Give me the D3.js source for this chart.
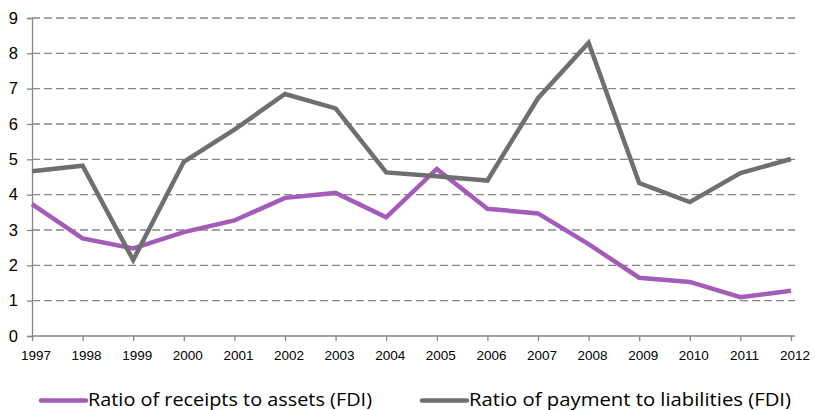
<!DOCTYPE html>
<html>
<head>
<meta charset="utf-8">
<script src="https://cdn.jsdelivr.net/npm/d3@7"></script>
<style>
  body { margin: 0; background: #fff; }
  svg { display: block; font-family: "Open Sans", "DejaVu Sans", sans-serif; }
</style>
</head>
<body>
<div id="chart"></div>
<script>
// years on the x axis
const years = ["1997","1998","1999","2000","2001","2002","2003","2004",
               "2005","2006","2007","2008","2009","2010","2011","2012"];

// series values
const receiptsToAssets = [3.73, 2.76, 2.48, 2.94, 3.27, 3.91, 4.05, 3.36,
                          4.73, 3.6, 3.47, 2.6, 1.65, 1.53, 1.1, 1.28];
const paymentToLiabilities = [4.66, 4.82, 2.15, 4.93, 5.84, 6.85, 6.44, 4.63,
                              4.52, 4.4, 6.73, 8.3, 4.33, 3.79, 4.61, 5.01];

const seriesNames = ["Ratio of receipts to assets (FDI)", "Ratio of payment to liabilities (FDI)"];
const yTicks = [0, 1, 2, 3, 4, 5, 6, 7, 8, 9];

const width = 815, height = 410;
const margin = { left: 32, right: 24, top: 18, bottom: 74 };

const svg = d3.select('#chart').append('svg')
    .attr('width', width)
    .attr('height', height);

const x = d3.scalePoint()
    .domain(years)
    .range([margin.left, 791]);

const y = d3.scaleLinear()
    .domain([0, 9])
    .range([336, margin.top]);

const axisColor = '#868686';

// dashed gridlines
svg.append('g')
  .selectAll('line')
  .data(yTicks.filter(d => d > 0))
  .join('line')
    .attr('x1', margin.left)
    .attr('x2', 795)
    .attr('y1', d => y(d))
    .attr('y2', d => y(d))
    .attr('stroke', axisColor)
    .attr('stroke-width', 1.3)
    .attr('stroke-dasharray', '8,4');

// y axis
const yAxis = svg.append('g')
    .attr('transform', `translate(${margin.left},0)`)
    .call(d3.axisLeft(y).tickValues(yTicks).tickSize(5).tickPadding(9));
yAxis.select('.domain').attr('stroke', axisColor).attr('stroke-width', 1.3);
yAxis.selectAll('.tick line').attr('stroke', axisColor).attr('stroke-width', 1.3);
yAxis.selectAll('.tick text')
    .attr('fill', '#000')
    .style('font-size', '16.5px');

// x axis
const xAxis = svg.append('g')
    .attr('transform', `translate(0,${y(0)})`)
    .call(d3.axisBottom(x).tickSize(5).tickPadding(9));
xAxis.select('.domain').attr('stroke', axisColor).attr('stroke-width', 1.3)
    .attr('d', `M${margin.left},0H795`);
xAxis.selectAll('.tick line').attr('stroke', axisColor).attr('stroke-width', 1.3);
xAxis.selectAll('.tick text')
    .attr('fill', '#000')
    .attr('dx', 3.5)
    .style('font-size', '13.5px');

const colors = ['#A35DB9', '#6F6F6F'];
const allSeries = [receiptsToAssets, paymentToLiabilities];

const line = d3.line()
    .x((d, i) => x(years[i]))
    .y(d => y(d));

[0, 1].forEach(k => {
  svg.append('path')
      .datum(allSeries[k])
      .attr('fill', 'none')
      .attr('stroke', colors[k])
      .attr('stroke-width', 4.5)
      .attr('stroke-linejoin', 'miter')
      .attr('d', line);
});

// legend
const legendItems = [
  { x: 41, name: seriesNames[0], color: colors[0], w: 284 },
  { x: 422, name: seriesNames[1], color: colors[1], w: 322 }
];
const legend = svg.append('g');
legendItems.forEach(it => {
  legend.append('line')
      .attr('x1', it.x).attr('x2', it.x + 45)
      .attr('y1', 400.5).attr('y2', 400.5)
      .attr('stroke', it.color)
      .attr('stroke-width', 4.5)
      .attr('stroke-linecap', 'round');
  legend.append('text')
      .attr('x', it.x + 47)
      .attr('y', 406)
      .style('font-size', '18.5px')
      .attr('textLength', it.w)
      .attr('lengthAdjust', 'spacingAndGlyphs')
      .attr('fill', '#000')
      .text(it.name);
});
</script>
</body>
</html>
